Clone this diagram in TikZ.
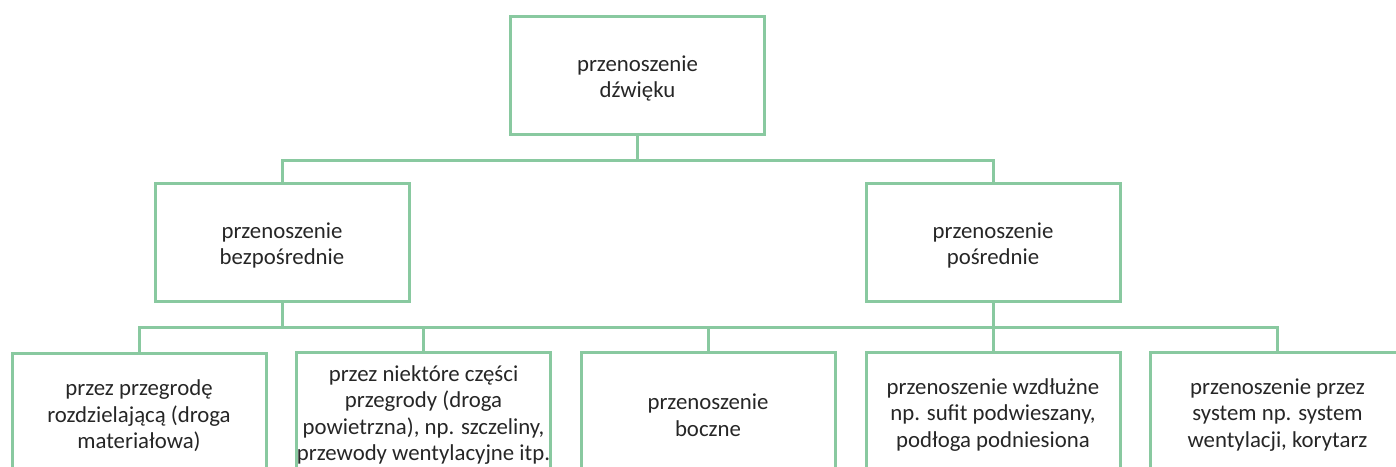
\documentclass[tikz,border=0pt]{standalone}
\usepackage{fontspec}
\setmainfont{Carlito}
\definecolor{linegreen}{RGB}{137,201,160}
\definecolor{textgray}{RGB}{38,38,38}

\begin{document}
\begin{tikzpicture}[x=0.5pt,y=-0.5pt,
  box/.style={draw=linegreen, line width=1.5pt, minimum width=127pt, minimum height=59pt,
    inner sep=0pt, align=center, text=textgray, font=\fontsize{11.4}{13.3}\selectfont,
    text height=24.5pt},
  lowbox/.style={box, minimum height=63pt, text height=},
  link/.style={draw=linegreen, line width=1.5pt}]
\useasboundingbox (0,0) rectangle (1396,466);
\clip (0,0) rectangle (1396,466);
% boxes
\node[box] (sound) at (637.5,75) {przenoszenie\\dźwięku};
\node[box] (direct) at (282,242) {przenoszenie\\bezpośrednie};
\node[box] (indirect) at (993,242) {przenoszenie\\pośrednie};
\node[lowbox] (wall) at (139,416) {przez przegrodę\\rozdzielającą (droga\\materiałowa)};
\node[lowbox] (gaps) at (423.5,415) {przez niektóre części\\przegrody (droga\\powietrzna), np. szczeliny,\\przewody wentylacyjne itp.};
\node[lowbox] (flank) at (708,415) {przenoszenie\\boczne};
\node[lowbox] (along) at (993,415) {przenoszenie wzdłużne\\np. sufit podwieszany,\\podłoga podniesiona};
\node[lowbox] (system) at (1277.5,415) {przenoszenie przez\\system np. system\\wentylacji, korytarz};
% connectors
\coordinate (upbus) at (637.5,160);
\coordinate (lowbus) at (282,327);
\draw[link] (sound.south) -- (upbus);
\draw[link] (direct.north) |- (upbus) -| (indirect.north);
\draw[link] (direct.south) -- (lowbus);
\draw[link] (wall.north) |- (lowbus) -| (system.north);
\draw[link] (indirect.south) -- (along.north);
\foreach \n in {gaps,flank}
  \draw[link] (\n.north) -- (\n.north |- lowbus);
\end{tikzpicture}
\end{document}
